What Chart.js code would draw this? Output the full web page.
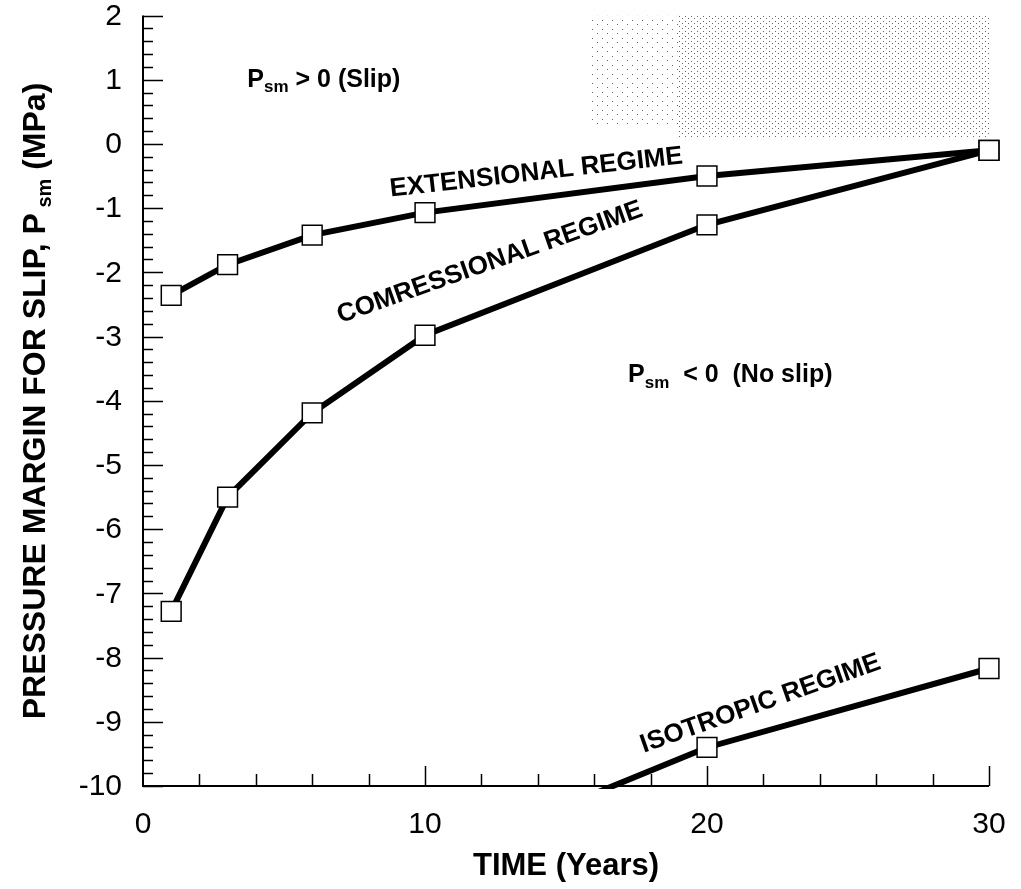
<!DOCTYPE html>
<html lang="en">
  <head>
    <title>Pressure margin for slip</title>
    <meta charset="utf-8" />
    <style>
      body { margin: 0; background: #fff; }
    </style>
  </head>
  <body>
    <canvas id="lienzo" width="1021" height="889"></canvas>

    <script src="https://cdn.jsdelivr.net/npm/chart.js"></script>
    <script>
      const years = [1, 3, 6, 10, 20, 30];
      const extensional = [-2.36, -1.88, -1.42, -1.07, -0.5, -0.1];
      const compressional = [-7.28, -5.5, -4.19, -2.98, -1.26, -0.1];
      const isotropic = [null, null, null, -11.2, -9.4, -8.17];
      const xTicks = [0, 10, 20, 30];
      const yTicks = [2, 1, 0, -1, -2, -3, -4, -5, -6, -7, -8, -9, -10];

      const FONT = "'Liberation Sans', Arial, sans-serif";

      function puntos(valores) {
        return years.map((x, i) => ({ x: x, y: valores[i] }));
      }

      function patron(w, h, dots) {
        const c = document.createElement("canvas");
        c.width = w;
        c.height = h;
        const g = c.getContext("2d");
        g.fillStyle = "#666";
        dots.forEach((d) => g.fillRect(d[0], d[1], 1, 1));
        return g.createPattern(c, "repeat");
      }

      const serie = (nombre, valores) => ({
        label: nombre,
        data: puntos(valores),
        borderColor: "#000",
        borderWidth: 6,
        pointStyle: "rect",
        pointRadius: valores.map((v) => (v !== null && v >= -10 ? 14 : 0)),
        pointBackgroundColor: "#fff",
        pointBorderColor: "#000",
        pointBorderWidth: 1.5,
        fill: false,
        tension: 0,
        clip: { left: 20, top: 20, right: 20, bottom: 3 },
      });

      // texto con subindice, p.ej. P_sm
      function textoRico(ctx, partes, x, y, ang, alinear) {
        ctx.save();
        ctx.translate(x, y);
        ctx.rotate(ang);
        let total = 0;
        partes.forEach((p) => {
          ctx.font = p.font;
          total += ctx.measureText(p.t).width;
        });
        let cx = alinear === "center" ? -total / 2 : 0;
        ctx.textBaseline = "middle";
        ctx.textAlign = "left";
        ctx.fillStyle = "#000";
        partes.forEach((p) => {
          ctx.font = p.font;
          ctx.fillText(p.t, cx, p.dy || 0);
          cx += ctx.measureText(p.t).width;
        });
        ctx.restore();
      }

      const decorado = {
        id: "decorado",
        beforeDatasetsDraw(chart) {
          const ctx = chart.ctx;
          const sx = chart.scales.x;
          const sy = chart.scales.y;
          const a = chart.chartArea;
          ctx.save();
          ctx.strokeStyle = "#000";
          ctx.lineWidth = 2;
          ctx.beginPath();
          ctx.moveTo(a.left, a.top);
          ctx.lineTo(a.left, a.bottom);
          ctx.lineTo(a.right, a.bottom);
          ctx.stroke();
          ctx.lineWidth = 1.5;
          ctx.beginPath();
          for (let k = 0; k <= 60; k++) {
            const v = -10 + k * 0.2;
            const py = Math.round(sy.getPixelForValue(v)) + 0.5;
            const len = k % 5 === 0 ? 20 : 10;
            ctx.moveTo(a.left, py);
            ctx.lineTo(a.left + len, py);
          }
          for (let k = 1; k <= 15; k++) {
            const v = k * 2;
            const px = Math.round(sx.getPixelForValue(v)) + 0.5;
            const len = v % 10 === 0 ? 20 : 12;
            ctx.moveTo(px, a.bottom);
            ctx.lineTo(px, a.bottom - len);
          }
          ctx.stroke();

          ctx.fillStyle = "#000";
          ctx.font = "30px " + FONT;
          ctx.textBaseline = "middle";
          ctx.textAlign = "right";
          yTicks.forEach((v) => {
            ctx.fillText(String(v), a.left - 21, sy.getPixelForValue(v) + 1);
          });
          ctx.textAlign = "center";
          xTicks.forEach((v) => {
            ctx.fillText(String(v), sx.getPixelForValue(v), a.bottom + 39);
          });
          ctx.restore();
        },
        afterDraw(chart) {
          const ctx = chart.ctx;
          const sx = chart.scales.x;
          const sy = chart.scales.y;
          const b25 = "bold 25px " + FONT;
          const b17 = "bold 17px " + FONT;
          const b26 = "bold 26px " + FONT;

          textoRico(
            ctx,
            [
              { t: "P", font: b25 },
              { t: "sm", font: b17, dy: 8 },
              { t: " > 0 (Slip)", font: b25 },
            ],
            sx.getPixelForValue(3.7),
            sy.getPixelForValue(1.0),
            0,
            "left"
          );
          textoRico(
            ctx,
            [
              { t: "P", font: b25 },
              { t: "sm", font: b17, dy: 8 },
              { t: "  < 0  (No slip)", font: b25 },
            ],
            sx.getPixelForValue(17.2),
            sy.getPixelForValue(-3.6),
            0,
            "left"
          );
          textoRico(
            ctx,
            [{ t: "EXTENSIONAL REGIME", font: b26 }],
            sx.getPixelForValue(13.95),
            sy.getPixelForValue(-0.45),
            (-6.5 * Math.PI) / 180,
            "center"
          );
          textoRico(
            ctx,
            [{ t: "COMRESSIONAL REGIME", font: b26 }],
            sx.getPixelForValue(12.3),
            sy.getPixelForValue(-1.85),
            (-19.5 * Math.PI) / 180,
            "center"
          );
          textoRico(
            ctx,
            [{ t: "ISOTROPIC REGIME", font: b26 }],
            sx.getPixelForValue(21.9),
            sy.getPixelForValue(-8.72),
            (-19.5 * Math.PI) / 180,
            "center"
          );

          const b32 = "bold 32px " + FONT;
          const b20 = "bold 20px " + FONT;
          textoRico(
            ctx,
            [
              { t: "PRESSURE MARGIN FOR SLIP, P", font: b32 },
              { t: " sm", font: b20, dy: 9 },
              { t: " (MPa)", font: b32 },
            ],
            36,
            401,
            -Math.PI / 2,
            "center"
          );
        },
      };

      document.addEventListener("DOMContentLoaded", () => {
        const contexto = document.querySelector("#lienzo");
        const densa = patron(6, 5, [[1, 1], [4, 3]]);
        const rala = patron(10, 9, [[2, 2], [7, 6]]);

        new Chart(contexto, {
          type: "line",
          data: {
            datasets: [
              {
                label: "slip-rala",
                data: [
                  { x: 15.8, y: 2 },
                  { x: 19, y: 2 },
                ],
                borderWidth: 0,
                pointRadius: 0,
                backgroundColor: rala,
                fill: { value: 0.25 },
              },
              {
                label: "slip-densa",
                data: [
                  { x: 19, y: 2 },
                  { x: 30, y: 2 },
                ],
                borderWidth: 0,
                pointRadius: 0,
                backgroundColor: densa,
                fill: { value: 0.1 },
              },
              serie("EXTENSIONAL REGIME", extensional),
              serie("COMRESSIONAL REGIME", compressional),
              serie("ISOTROPIC REGIME", isotropic),
            ],
          },
          options: {
            responsive: false,
            animation: false,
            layout: { padding: { top: 15, right: 32, left: 0, bottom: 0 } },
            plugins: {
              legend: { display: false },
              tooltip: { enabled: false },
            },
            scales: {
              x: {
                type: "linear",
                min: 0,
                max: 30,
                afterFit: (s) => {
                  s.height = 103;
                },
                grid: { display: false, drawTicks: false },
                border: { display: false },
                ticks: { display: false },
                title: {
                  display: true,
                  text: "TIME (Years)",
                  color: "#000",
                  font: { family: FONT, size: 31, weight: "bold" },
                  padding: { top: 4, bottom: 4 },
                },
              },
              y: {
                type: "linear",
                min: -10,
                max: 2,
                afterFit: (s) => {
                  s.width = 143;
                },
                grid: { display: false, drawTicks: false },
                border: { display: false },
                ticks: { display: false },
              },
            },
          },
          plugins: [decorado],
        });
      });
    </script>
  </body>
</html>
